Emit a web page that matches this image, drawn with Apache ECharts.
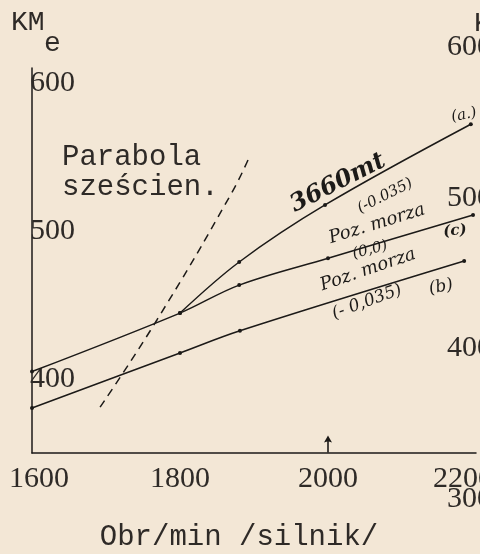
<!DOCTYPE html>
<html><head><meta charset="utf-8">
<script src="https://cdn.jsdelivr.net/npm/echarts@6/dist/echarts.min.js"></script>
<style>html,body{margin:0;padding:0;background:#f3e7d6}#c{width:480px;height:554px}</style>
</head><body><div id="c"></div>
<script>
// ---- data ----
const xTicks = [1600, 1800, 2000, 2200];
const leftTicks = [400, 500, 600];
const rightTicks = [300, 400, 500, 600];

// (a) 3660 mt (-0.035)
const rpmA = [1800, 1880, 1996, 2193];
const kmA = [444.5, 479, 517.5, 572];
// (c) Poz. morza (0,0)
const rpmC = [1600, 1800, 1880, 2000, 2196];
const kmC = [405, 444.5, 463.4, 481.5, 510.7];
// (b) Poz. morza (-0,035)
const rpmB = [1600, 1800, 1881, 2184];
const kmB = [380.4, 417.5, 432.5, 479.6];
// Parabola sześcienna (dashed)
const rpmP = [1692, 1769, 1868, 1892];
const kmP = [381, 440, 524, 548];
// arrow marker at 2000 rpm
const arrowRpm = 2000, arrowKm = 356;

const ink = '#1c1a18';
const typeInk = '#2e2a27';
const pairs = (xs, ys) => xs.map((x, i) => [x, ys[i]]);
const hand = (size, bold) => (bold ? 'italic bold ' : 'italic ') + size + 'px "DejaVu Serif"';

const chart = echarts.init(document.getElementById('c'), null, {renderer: 'canvas'});
const lineSeries = (name, xs, ys) => ({
  type: 'line', name, xAxisIndex: 0, yAxisIndex: 0,
  data: pairs(xs, ys), smooth: 0.35, symbol: 'circle', symbolSize: 4,
  lineStyle: {color: ink, width: 1.5}, itemStyle: {color: ink}
});
const xLabelFmt = v => {
  if (!xTicks.includes(v)) return '';
  if (v === xTicks[0]) return '{l|' + v + '}';
  if (v === xTicks[xTicks.length - 1]) return '{r|' + v + '}';
  return String(v);
};

const option = {
  backgroundColor: '#f3e7d6',
  animation: false,
  title: {
    text: '{a|KM}\n{b|e}', left: 6, top: 6,
    textStyle: {fontWeight: 'normal', rich: {
      a: {fontFamily: 'Liberation Mono', fontSize: 28, fontWeight: 'normal', color: typeInk, lineHeight: 24},
      b: {fontFamily: 'Liberation Mono', fontSize: 28, fontWeight: 'normal', color: typeInk, lineHeight: 17, padding: [0, 0, 0, 33]}
    }}
  },
  grid: [
    {left: 32, right: 4, top: 68, bottom: 101, containLabel: false, outerBoundsMode: 'none'},
    {left: 32, right: 35, top: 32, bottom: 40, containLabel: false, outerBoundsMode: 'none'}
  ],
  xAxis: [
    {type: 'value', gridIndex: 0, min: 1600, max: 2200, interval: 200,
     axisLine: {lineStyle: {color: ink, width: 1.5}}, axisTick: {show: false}, splitLine: {show: false},
     axisLabel: {fontFamily: 'Liberation Serif', fontSize: 30, color: typeInk, margin: 11,
       formatter: xLabelFmt,
       rich: {
         l: {fontFamily: 'Liberation Serif', fontSize: 30, color: typeInk, padding: [0, 0, 0, 14]},
         r: {fontFamily: 'Liberation Serif', fontSize: 30, color: typeInk, padding: [0, 26, 0, 0]}
       }},
     name: 'Obr/min /silnik/', nameLocation: 'middle', nameGap: 70,
     nameTextStyle: {fontFamily: 'Liberation Mono', fontSize: 29, color: typeInk, padding: [0, 30, 0, 0]}},
    {type: 'value', gridIndex: 1, show: false, min: 0, max: 1}
  ],
  yAxis: [
    {type: 'value', gridIndex: 0, min: 350, max: 610, interval: 50,
     axisLine: {show: true, lineStyle: {color: ink, width: 1.5}}, axisTick: {show: false}, splitLine: {show: false},
     axisLabel: {inside: true, margin: -2, fontFamily: 'Liberation Serif', fontSize: 30, color: typeInk,
       formatter: v => leftTicks.includes(v) ? String(v) : ''}},
    {type: 'value', gridIndex: 1, position: 'right', min: 290, max: 610, interval: 10,
     axisLine: {show: false}, axisTick: {show: false}, splitLine: {show: false},
     axisLabel: {margin: 2, fontFamily: 'Liberation Serif', fontSize: 30, color: typeInk,
       formatter: v => rightTicks.includes(v) ? String(v) : ''}}
  ],
  series: [
    lineSeries('(a) 3660 mt (-0.035)', rpmA, kmA),
    lineSeries('(c) Poz. morza (0,0)', rpmC, kmC),
    Object.assign(lineSeries('(b) Poz. morza (-0,035)', rpmB, kmB), {
      markPoint: {
        symbol: 'path://M5,0 L10,8 L6,7 L6,20 L4,20 L4,7 L0,8 Z', symbolSize: [8, 17],
        itemStyle: {color: ink}, label: {show: false},
        data: [{coord: [arrowRpm, arrowKm]}]
      }
    }),
    {type: 'line', name: 'Parabola sześcien.', xAxisIndex: 0, yAxisIndex: 0,
     data: pairs(rpmP, kmP), smooth: true, showSymbol: false,
     lineStyle: {color: ink, width: 1.5, type: [8, 6]}}
  ],
  graphic: [
    {type: 'text', left: 62, top: 142, style: {text: 'Parabola\nsześcien.', font: '29px "Liberation Mono"', fill: typeInk, lineHeight: 30}},
    {type: 'text', left: 474, top: 10, style: {text: 'KM', font: '28px "Liberation Mono"', fill: typeInk}},
    {type: 'text', x: 338, y: 183, rotation: 0.47, style: {text: '3660mt', font: hand(24, true), fill: ink, align: 'center', verticalAlign: 'middle'}},
    {type: 'text', x: 385, y: 196, rotation: 0.47, style: {text: '(-0.035)', font: hand(15, false), fill: ink, align: 'center', verticalAlign: 'middle'}},
    {type: 'text', x: 464, y: 115, rotation: 0.2, style: {text: '(a.)', font: hand(15, false), fill: ink, align: 'center', verticalAlign: 'middle'}},
    {type: 'text', x: 377, y: 224, rotation: 0.3, style: {text: 'Poz. morza', font: hand(18, false), fill: ink, align: 'center', verticalAlign: 'middle'}},
    {type: 'text', x: 370, y: 250, rotation: 0.25, style: {text: '(0,0)', font: hand(15, false), fill: ink, align: 'center', verticalAlign: 'middle'}},
    {type: 'text', x: 455, y: 231, rotation: 0.1, style: {text: '(c)', font: hand(15, true), fill: ink, align: 'center', verticalAlign: 'middle'}},
    {type: 'text', x: 368, y: 270, rotation: 0.33, style: {text: 'Poz. morza', font: hand(18, false), fill: ink, align: 'center', verticalAlign: 'middle'}},
    {type: 'text', x: 367, y: 302, rotation: 0.35, style: {text: '(- 0,035)', font: hand(17, false), fill: ink, align: 'center', verticalAlign: 'middle'}},
    {type: 'text', x: 441, y: 287, rotation: 0.2, style: {text: '(b)', font: hand(17, false), fill: ink, align: 'center', verticalAlign: 'middle'}}
  ]
};
chart.setOption(option);
</script>
</body></html>
